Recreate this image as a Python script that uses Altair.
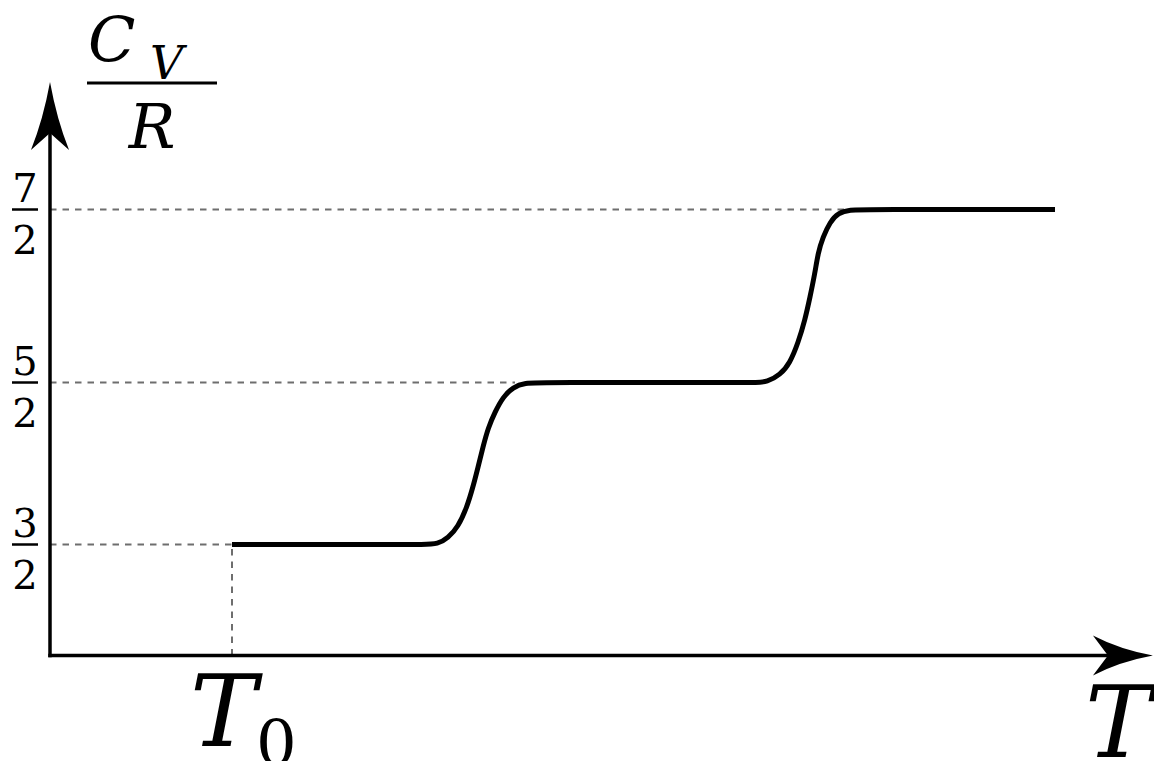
import altair as alt
import pandas as pd

# Temperature measured in units of T0 (T = 0 on the vertical axis); heat capacity in units of R.
curve_T = [1.000, 1.900, 2.050, 2.132, 2.187, 2.242, 2.291, 2.324, 2.352, 2.379, 2.407, 2.445, 2.489,
           2.544, 2.610, 2.700, 3.800, 3.880, 3.940, 4.011, 4.066, 4.110, 4.148, 4.176, 4.203,
           4.220, 4.247, 4.286, 4.330, 4.396, 4.480, 5.522]
curve_cv = [1.5, 1.5, 1.5, 1.502, 1.54, 1.608, 1.731, 1.855, 1.978, 2.102, 2.219, 2.318, 2.410,
            2.472, 2.497, 2.5, 2.5, 2.5, 2.503, 2.543, 2.613, 2.728, 2.861, 2.994, 3.133,
            3.249, 3.341, 3.428, 3.480, 3.498, 3.5, 3.5]

# Plateau levels (3/2, 5/2, 7/2) and where each plateau begins on the T axis
levels = [1.5, 2.5, 3.5]
level_num = ["3", "5", "7"]
level_den = ["2", "2", "2"]
plateau_start = [1.0, 2.555, 4.368]

T0 = 1.0
T_tip = 6.06      # end of the T axis arrow
cv_tip = 4.237    # end of the C_V/R axis arrow
T_shaft = 5.85
cv_shaft = 4.05

curve = pd.DataFrame({"T": curve_T, "cv": curve_cv})
guides = pd.DataFrame({"cv": levels, "T0": [0.0] * 3, "T1": plateau_start,
                       "num": level_num, "den": level_den})

W, H = 1154, 761
xs = alt.Scale(domain=[0, 6], range=[50, 1142], nice=False, zero=False)
ys = alt.Scale(domain=[0, 1.5, 2.5, 3.5], range=[655.5, 544.5, 382.5, 209.5],
               nice=False, zero=False)

X = lambda f: alt.X(f, type="quantitative", scale=xs, axis=None)
Y = lambda f: alt.Y(f, type="quantitative", scale=ys, axis=None)

DASH = [6.5, 6]
GREY = "#6e6e6e"
SERIF = "DejaVu Serif"

# dashed guides to each plateau
h_guides = alt.Chart(guides).mark_rule(color=GREY, strokeWidth=2, strokeDash=DASH).encode(
    x=X("T0"), x2="T1", y=Y("cv"))
v_guide = alt.Chart(pd.DataFrame({"T": [T0], "a": [0.0], "b": [levels[0]]})).mark_rule(
    color=GREY, strokeWidth=2, strokeDash=DASH).encode(x=X("T"), y=Y("a"), y2="b")

# axes
y_axis = alt.Chart(pd.DataFrame({"T": [0.0], "a": [0.0], "b": [cv_shaft]})).mark_rule(
    color="black", strokeWidth=3.5, strokeCap="square").encode(x=X("T"), y=Y("a"), y2="b")
x_axis = alt.Chart(pd.DataFrame({"cv": [0.0], "a": [0.0], "b": [T_shaft]})).mark_rule(
    color="black", strokeWidth=3.5, strokeCap="square").encode(x=X("a"), x2="b", y=Y("cv"))

up_arrow = "M0,0 Q0.2,1.1 0.56,2 L0,1.5 L-0.56,2 Q-0.2,1.1 0,0 Z"
right_arrow = "M0,0 Q-1.1,0.2 -2,0.667 L-1.5,0 L-2,-0.667 Q-1.1,-0.2 0,0 Z"
y_head = alt.Chart(pd.DataFrame({"T": [0.0], "cv": [cv_tip]})).mark_point(
    shape=up_arrow, size=4624, filled=True, color="black", opacity=1, strokeWidth=0).encode(
    x=X("T"), y=Y("cv"))
x_head = alt.Chart(pd.DataFrame({"T": [T_tip], "cv": [0.0]})).mark_point(
    shape=right_arrow, size=3600, filled=True, color="black", opacity=1, strokeWidth=0).encode(
    x=X("T"), y=Y("cv"))

# heat capacity curve
line = alt.Chart(curve).mark_line(color="black", strokeWidth=5, interpolate="basis",
                                  strokeCap="butt").encode(x=X("T"), y=Y("cv"))

# fraction tick labels on the vertical axis
num = alt.Chart(guides).mark_text(font=SERIF, fontSize=40, align="center",
                                  baseline="alphabetic", dx=-25, dy=-8, color="black").encode(
    x=X("T0"), y=Y("cv"), text="num")
den = alt.Chart(guides).mark_text(font=SERIF, fontSize=40, align="center",
                                  baseline="alphabetic", dx=-25, dy=44, color="black").encode(
    x=X("T0"), y=Y("cv"), text="den")
bars = alt.Chart(guides).mark_rule(color="black", strokeWidth=2.5).encode(
    x=alt.value(12), x2=alt.value(38), y=Y("cv"))

# axis titles
one = pd.DataFrame({"k": [0]})
c_txt = alt.Chart(one).mark_text(text="C", font=SERIF, fontStyle="italic", fontSize=62,
                                 align="left", baseline="alphabetic", color="black").encode(
    x=alt.value(88), y=alt.value(61))
v_txt = alt.Chart(one).mark_text(text="V", font=SERIF, fontStyle="italic", fontSize=46,
                                 align="left", baseline="alphabetic", color="black").encode(
    x=alt.value(150), y=alt.value(79))
frac_bar = alt.Chart(one).mark_rule(color="black", strokeWidth=3).encode(
    x=alt.value(87), x2=alt.value(217), y=alt.value(83))
r_txt = alt.Chart(one).mark_text(text="R", font=SERIF, fontStyle="italic", fontSize=62,
                                 align="center", baseline="alphabetic", color="black").encode(
    x=alt.value(152), y=alt.value(148))

t0_pos = pd.DataFrame({"T": [T0], "cv": [0.0]})
t0_T = alt.Chart(t0_pos).mark_text(text="T", font=SERIF, fontStyle="italic", fontSize=100,
                                   align="left", baseline="alphabetic", dx=-42, dy=90,
                                   color="black").encode(x=X("T"), y=Y("cv"))
t0_sub = alt.Chart(t0_pos).mark_text(text="0", font=SERIF, fontSize=64, align="left",
                                     baseline="alphabetic", dx=24, dy=110,
                                     color="black").encode(x=X("T"), y=Y("cv"))
t_lbl = alt.Chart(pd.DataFrame({"T": [T_tip], "cv": [0.0]})).mark_text(
    text="T", font=SERIF, fontStyle="italic", fontSize=100, align="left", baseline="alphabetic",
    dx=-68, dy=101, color="black").encode(x=X("T"), y=Y("cv"))

chart = alt.layer(
    h_guides, v_guide, y_axis, x_axis, line, y_head, x_head,
    num, den, bars, c_txt, v_txt, frac_bar, r_txt, t0_T, t0_sub, t_lbl,
).properties(
    width=W, height=H, padding=0, autosize=alt.AutoSizeParams(type="none"), background="white"
).configure_view(stroke=None)

chart.save("out.html", embed_options={"renderer": "svg", "actions": False})
